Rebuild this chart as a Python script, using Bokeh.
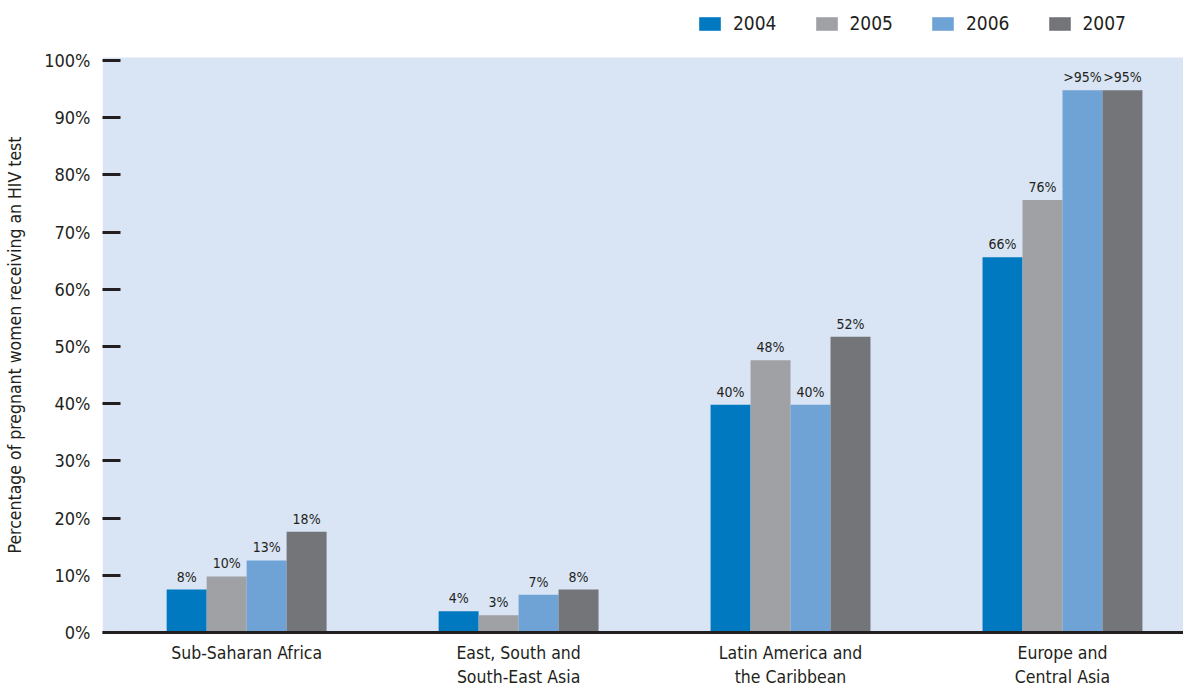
from bokeh.plotting import figure
from bokeh.models import Range1d, Legend, LegendItem, ColumnDataSource, FixedTicker, BoxAnnotation
from bokeh.embed import file_html
from bokeh.resources import INLINE
from bokeh.core.properties import value

regions = ["Sub-Saharan Africa", "East, South and\nSouth-East Asia",
           "Latin America and\nthe Caribbean", "Europe and\nCentral Asia"]
years = ["2004", "2005", "2006", "2007"]
v2004 = [7.5, 3.7, 39.8, 65.6]
v2005 = [9.8, 3.0, 47.6, 75.6]
v2006 = [12.6, 6.6, 39.8, 94.8]
v2007 = [17.6, 7.5, 51.7, 94.8]
l2004 = ["8%", "4%", "40%", "66%"]
l2005 = ["10%", "3%", "48%", "76%"]
l2006 = ["13%", "7%", "40%", ">95%"]
l2007 = ["18%", "8%", "52%", ">95%"]
colors = ["#0079c1", "#a0a1a5", "#70a3d5", "#747578"]
yticks = [0, 10, 20, 30, 40, 50, 60, 70, 80, 90, 100]

FONT = "DejaVu Sans Condensed"
TXT = "#231f20"

p = figure(width=1183, height=689, output_backend="svg", toolbar_location=None,
           x_range=Range1d(-0.53, 3.445), y_range=Range1d(-9.96, 110.47),
           min_border_left=102, min_border_right=0, min_border_top=0, min_border_bottom=0)
p.background_fill_color = "white"
p.border_fill_color = "white"
p.outline_line_color = None
p.xgrid.visible = False
p.ygrid.visible = False

p.add_layout(BoxAnnotation(bottom=0, top=100.5, fill_color="#d9e4f4", fill_alpha=1,
                           line_color=None, level="underlay"))

bw = 0.147
offsets = [-1.5 * bw, -0.5 * bw, 0.5 * bw, 1.5 * bw]
series = [v2004, v2005, v2006, v2007]
labels = [l2004, l2005, l2006, l2007]
items = []
for k, (vals, labs, col, off) in enumerate(zip(series, labels, colors, offsets)):
    src = ColumnDataSource(dict(x=[i + off for i in range(len(regions))], top=vals, lab=labs))
    r = p.vbar(x="x", top="top", width=bw, bottom=0, source=src, fill_color=col, line_color=None)
    p.text(x="x", y="top", text="lab", source=src, text_align="center", text_baseline="bottom",
           y_offset=-5, text_font=value(FONT), text_font_size="14px", text_color=TXT)
    items.append(LegendItem(label=years[k], renderers=[r]))

legend = Legend(items=items, orientation="horizontal", location=(594, 655),
                glyph_width=27, glyph_height=17, label_standoff=10, spacing=36,
                padding=0, margin=0, border_line_color=None, background_fill_alpha=0,
                label_text_font=FONT, label_text_font_size="19px", label_text_color=TXT)
p.add_layout(legend, "center")

# y axis
p.yaxis.ticker = FixedTicker(ticks=yticks)
p.yaxis.major_label_overrides = {t: f"{t}%" for t in yticks}
p.yaxis.axis_line_color = None
p.yaxis.major_tick_in = 18
p.yaxis.major_tick_out = 0
p.yaxis.major_tick_line_width = 3
p.yaxis.major_tick_line_color = TXT
p.yaxis.minor_tick_line_color = None
p.yaxis.major_label_standoff = 12
p.yaxis.major_label_text_font = FONT
p.yaxis.major_label_text_font_size = "18px"
p.yaxis.major_label_text_color = TXT
p.yaxis.axis_label = "Percentage of pregnant women receiving an HIV test"
p.yaxis.axis_label_text_font = FONT
p.yaxis.axis_label_text_font_size = "17.5px"
p.yaxis.axis_label_text_font_style = "normal"
p.yaxis.axis_label_text_color = TXT
p.yaxis.axis_label_standoff = 16

# x axis, pinned at y = 0
p.xaxis.fixed_location = 0
p.xaxis.ticker = FixedTicker(ticks=list(range(len(regions))))
p.xaxis.major_label_overrides = {i: r for i, r in enumerate(regions)}
p.xaxis.axis_line_width = 3
p.xaxis.axis_line_color = TXT
p.xaxis.major_tick_line_color = None
p.xaxis.minor_tick_line_color = None
p.xaxis.major_tick_in = 0
p.xaxis.major_tick_out = 0
p.xaxis.major_label_standoff = 10
p.xaxis.major_label_text_font = FONT
p.xaxis.major_label_text_font_size = "17.5px"
p.xaxis.major_label_text_color = TXT

open("out.html", "w").write(file_html(p, INLINE))
